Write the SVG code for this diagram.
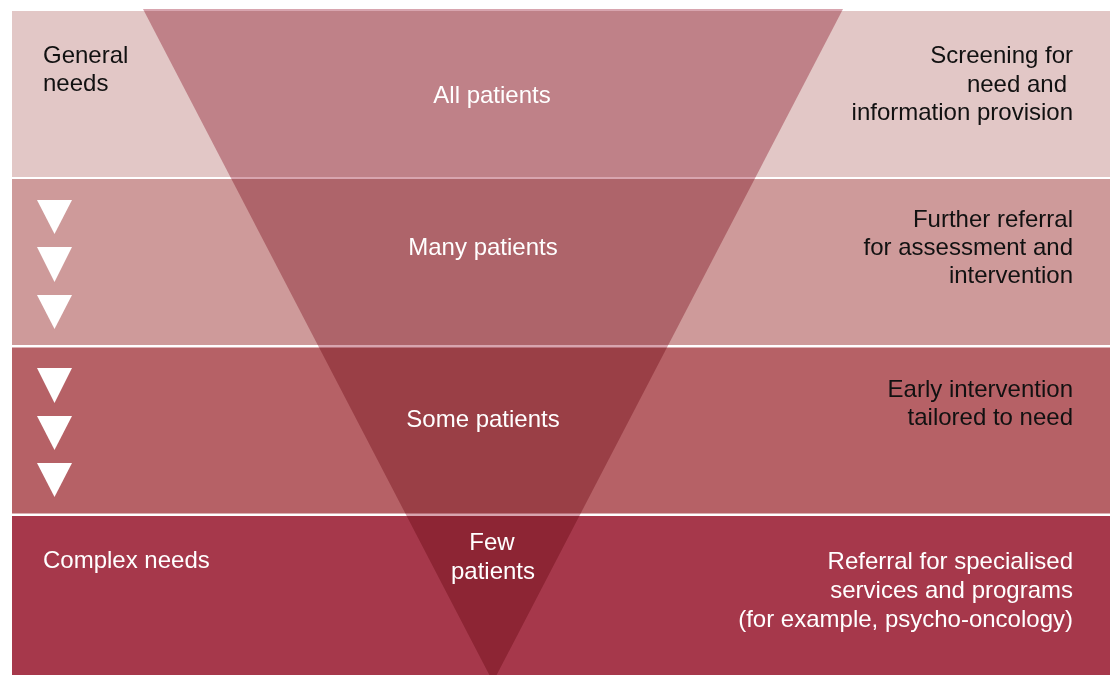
<svg xmlns="http://www.w3.org/2000/svg" width="1114" height="675" viewBox="0 0 1114 675">
  <style>
    text { font-family: "Liberation Sans", Arial, Helvetica, sans-serif; font-size: 24px; }
    .dark { fill: #111111; }
    .light { fill: #ffffff; }
    .r { text-anchor: end; }
    .c { text-anchor: middle; }
    .arrow { fill: #ffffff; }
    .funnel { fill: #D8A5AF; mix-blend-mode: multiply; }
  </style>
  <rect x="0" y="0" width="1114" height="675" fill="#ffffff"/>
  <g id="band-general">
    <rect x="12" y="11" width="1098" height="166" fill="#E2C7C6"/>
  </g>
  <g id="band-many">
    <rect x="12" y="179" width="1098" height="166" fill="#CE9A9A"/>
  </g>
  <g id="band-some">
    <rect x="12" y="347.5" width="1098" height="166" fill="#B66166"/>
  </g>
  <g id="band-complex">
    <rect x="12" y="516" width="1098" height="159" fill="#A6384B"/>
  </g>
  <g id="funnel">
    <polygon class="funnel" points="143,9 843,9 493,682"/>
  </g>
  <g id="arrows">
    <polygon class="arrow" points="37,200 72,200 54.5,234"/>
    <polygon class="arrow" points="37,247 72,247 54.5,282"/>
    <polygon class="arrow" points="37,295 72,295 54.5,329"/>
    <polygon class="arrow" points="37,368 72,368 54.5,403"/>
    <polygon class="arrow" points="37,416 72,416 54.5,450"/>
    <polygon class="arrow" points="37,463 72,463 54.5,497"/>
  </g>
  <g id="label-general">
    <text class="dark" x="43" y="63">General</text>
    <text class="dark" x="43" y="91">needs</text>
  </g>
  <g id="label-complex">
    <text class="light" x="43" y="568">Complex needs</text>
  </g>
  <g id="label-all">
    <text class="light c" x="492" y="103">All patients</text>
  </g>
  <g id="label-many">
    <text class="light c" x="483" y="255">Many patients</text>
  </g>
  <g id="label-some">
    <text class="light c" x="483" y="427">Some patients</text>
  </g>
  <g id="label-few">
    <text class="light c" x="492" y="550">Few</text>
    <text class="light c" x="493" y="579">patients</text>
  </g>
  <g id="label-screening">
    <text class="dark r" x="1073" y="63">Screening for</text>
    <text class="dark r" x="1067" y="92">need and</text>
    <text class="dark r" x="1073" y="120">information provision</text>
  </g>
  <g id="label-further">
    <text class="dark r" x="1073" y="227">Further referral</text>
    <text class="dark r" x="1073" y="255">for assessment and</text>
    <text class="dark r" x="1073" y="283">intervention</text>
  </g>
  <g id="label-early">
    <text class="dark r" x="1073" y="397">Early intervention</text>
    <text class="dark r" x="1073" y="425">tailored to need</text>
  </g>
  <g id="label-referral">
    <text class="light r" x="1073" y="569">Referral for specialised</text>
    <text class="light r" x="1073" y="598">services and programs</text>
    <text class="light r" x="1073" y="627">(for example, psycho-oncology)</text>
  </g>
</svg>
